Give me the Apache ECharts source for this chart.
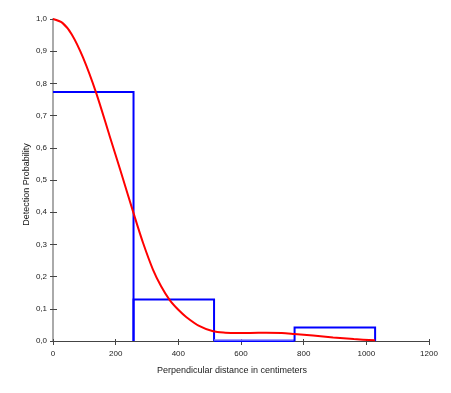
<!DOCTYPE html>
<html><head><meta charset="utf-8">
<script src="https://cdn.jsdelivr.net/npm/echarts@6/dist/echarts.min.js"></script>
<style>html,body{margin:0;padding:0;background:#fff}#c{width:451px;height:393px}</style>
</head><body><div id="c"></div>
<script>
// Histogram bins (distance in cm) and heights
var binStart = [0, 257, 514, 771];
var binEnd = [257, 514, 771, 1028];
var binHeight = [0.773, 0.129, 0.0, 0.042];
// Fitted detection function
var curveX = [0, 30, 60, 96, 138, 181, 216, 258, 287, 319, 345, 372, 400, 426, 468, 511, 550, 590, 630, 680, 730, 770, 830, 894, 960, 1028];
var curveY = [1.0, 0.988, 0.952, 0.880, 0.770, 0.636, 0.527, 0.394, 0.306, 0.222, 0.170, 0.128, 0.097, 0.074, 0.046, 0.030, 0.026, 0.025, 0.025, 0.026, 0.025, 0.022, 0.017, 0.011, 0.006, 0.002];
var xTicks = [0, 200, 400, 600, 800, 1000, 1200];
var yTicks = [0, 0.1, 0.2, 0.3, 0.4, 0.5, 0.6, 0.7, 0.8, 0.9, 1.0];

var bins = binStart.map(function (s, i) { return [s, binEnd[i], binHeight[i], i]; });
var curve = curveX.map(function (x, i) { return [x, curveY[i]]; });

var chart = echarts.init(document.getElementById('c'));
var lbl = { fontFamily: 'Liberation Sans, Arial', fontSize: 8, color: '#222' };
chart.setOption({
  animation: false,
  grid: { left: 53, right: 22, top: 19, bottom: 52 },
  xAxis: [{
    type: 'value', min: 0, max: 1200, interval: 200, position: 'bottom',
    axisLine: { lineStyle: { color: '#444', width: 1 } },
    axisTick: { length: 4, lineStyle: { color: '#444' } },
    axisLabel: Object.assign({ margin: 9, formatter: function (v) { return String(v); } }, lbl),
    splitLine: { show: false },
    name: 'Perpendicular distance in centimeters', nameLocation: 'middle', nameGap: 25,
    nameTextStyle: { fontFamily: 'Liberation Sans, Arial', fontSize: 9, color: '#222', padding: [0, 18, 0, 0] }
  }, {
    type: 'value', min: 0, max: 1200, interval: 200, position: 'bottom',
    axisLine: { show: false }, axisTick: { inside: true, length: 2, lineStyle: { color: '#444' } },
    axisLabel: { show: false }, splitLine: { show: false }
  }, {
    type: 'value', min: 0, max: 1200, position: 'top',
    axisLine: { lineStyle: { color: '#444', width: 1 } }, axisTick: { show: false },
    axisLabel: { show: false }, splitLine: { show: false }
  }],
  yAxis: [{
    type: 'value', min: 0, max: 1, interval: 0.1, position: 'left',
    axisLine: { show: true, lineStyle: { color: '#444', width: 1 } },
    axisTick: { show: true, length: 3, lineStyle: { color: '#444' } },
    axisLabel: Object.assign({ margin: 6, formatter: function (v) { return v.toFixed(1).replace('.', ','); } }, lbl),
    splitLine: { show: false },
    name: 'Detection Probability', nameLocation: 'middle', nameGap: 22, nameRotate: 90, nameMoveOverlap: false,
    nameTextStyle: { fontFamily: 'Liberation Sans, Arial', fontSize: 9, color: '#111', padding: [0, 9, 0, 0] }
  }, {
    type: 'value', min: 0, max: 1, interval: 0.1, position: 'left',
    axisLine: { show: false }, axisTick: { show: true, inside: true, length: 4, lineStyle: { color: '#444' } },
    axisLabel: { show: false }, splitLine: { show: false }
  }, {
    type: 'value', min: 0, max: 1, position: 'right',
    axisLine: { show: true, lineStyle: { color: '#aaa', width: 2 } }, axisTick: { show: false },
    axisLabel: { show: false }, splitLine: { show: false }
  }],
  series: [{
    type: 'custom', xAxisIndex: 0, yAxisIndex: 0, z: 1,
    data: bins,
    renderItem: function (params, api) {
      var s = api.value(0), e = api.value(1), h = api.value(2), idx = api.value(3);
      var p0 = api.coord([s, 0]), p1 = api.coord([s, h]), p2 = api.coord([e, h]), p3 = api.coord([e, 0]);
      var pts = idx === 0 ? [p1, p2, p3] : [p0, p1, p2, p3];
      var children = [{ type: 'polyline', shape: { points: pts }, style: { stroke: '#0000ff', lineWidth: 2, fill: null } }];
      if (h < 0.005) {
        children = [{ type: 'polyline', shape: { points: [p0, p1, p2, p3] }, style: { stroke: '#0000ff', lineWidth: 2, fill: null } },
                    { type: 'line', shape: { x1: p0[0], y1: p0[1] - 1, x2: p3[0], y2: p3[1] - 1 }, style: { stroke: '#8080ff', lineWidth: 1.5 } }];
      }
      return { type: 'group', children: children };
    }
  }, {
    type: 'line', xAxisIndex: 0, yAxisIndex: 0, z: 3,
    data: curve, smooth: 0.3, showSymbol: false,
    lineStyle: { color: '#ff0000', width: 2 }
  }]
});
</script></body></html>
